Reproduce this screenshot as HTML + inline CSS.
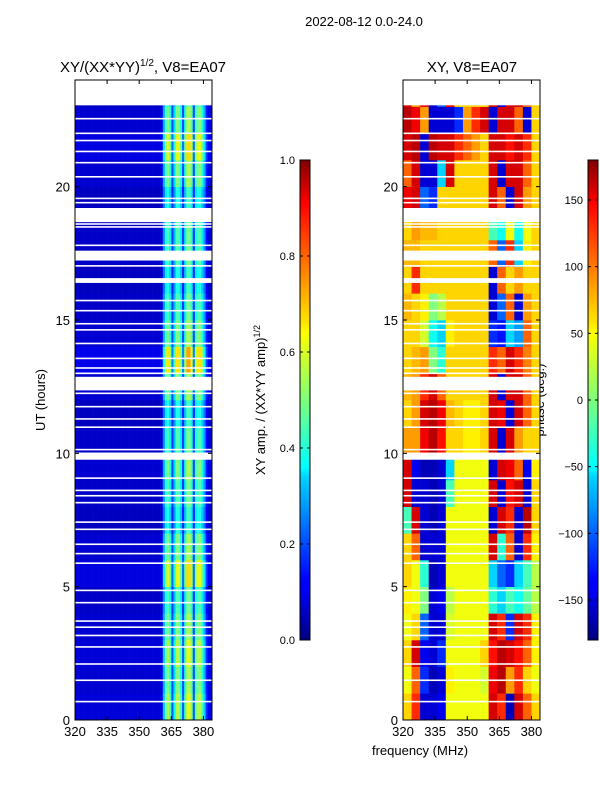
<!DOCTYPE html>
<html><head><meta charset="utf-8"><style>
body{margin:0;background:#fff;width:600px;height:800px;overflow:hidden;font-family:"Liberation Sans",sans-serif}
text{font-family:"Liberation Sans","DejaVu Sans",sans-serif}
</style></head><body>
<svg id="fig" width="600" height="800" xmlns="http://www.w3.org/2000/svg">
<defs>
<linearGradient id="jetV" x1="0" y1="1" x2="0" y2="0">
<stop offset="0" stop-color="#00007f"/><stop offset="0.11" stop-color="#0000ff"/><stop offset="0.125" stop-color="#0000ff"/>
<stop offset="0.34" stop-color="#00d4ff"/><stop offset="0.36" stop-color="#0ff"/><stop offset="0.5" stop-color="#7dff7a"/>
<stop offset="0.64" stop-color="#ff0"/><stop offset="0.66" stop-color="#ffe600"/><stop offset="0.89" stop-color="#ff1300"/>
<stop offset="0.91" stop-color="#f00"/><stop offset="1" stop-color="#7f0000"/>
</linearGradient>
</defs>
<text x="364" y="26" font-size="13" text-anchor="middle">2022-08-12 0.0-24.0</text>
<text x="143" y="72" font-size="15" text-anchor="middle">XY/(XX*YY)<tspan font-size="10" dy="-6">1/2</tspan><tspan dy="6">, V8=EA07</tspan></text>
<text x="472" y="72" font-size="15" text-anchor="middle">XY, V8=EA07</text>
<text transform="translate(45,400) rotate(-90)" font-size="13" text-anchor="middle">UT (hours)</text>
<text transform="translate(265,400) rotate(-90)" font-size="13" text-anchor="middle">XY amp. / (XX*YY amp)<tspan font-size="9" dy="-5">1/2</tspan></text>
<text transform="translate(544,400) rotate(-90)" font-size="13" text-anchor="middle">phase (deg.)</text>
<text x="420" y="755" font-size="13" text-anchor="middle">frequency (MHz)</text>
<g id="left"></g>
<g id="right"></g>
<g id="cbars"></g>
</svg>
<script>
const ampChan=[.08,.08,.08,.08,.08,.08,.08,.08,.08,.08,.08,.08,.08,.08,.08,.08,.08,.08,.08,.08,.08,.08,.08,.08,.08,.08,.08,.08,.08,.08,.08,.08,.08,.08,.08,.08,.08,.08,.08,.08,.1,.3,.45,.5,.4,.2,.35,.5,.5,.4,.2,.4,.55,.55,.45,.2,.45,.5,.5,.4,.3,.15,.1,.1];
const ampHour=[1.1,1.0,1.1,1.0,0.9,1.2,1.0,0.8,0.9,1.0,0.9,0.8,1.0,1.3,1.0,0.9,0.8,0.9,0.9,0.8,1.0,1.2,1.0,0.9];
const phase=[
[60,120,-150,-150,-140,40,40,40,40,40,150,120,-160,150,100,60],
[40,100,-120,-160,-150,50,40,40,40,30,140,160,80,120,60,40],
[60,150,-140,-150,-120,40,40,40,40,60,130,160,150,130,100,50],
[40,60,-100,-150,-150,30,40,40,40,40,150,120,-120,150,120,50],
[50,40,0,-150,-140,20,40,40,40,40,-30,-60,-20,-40,-10,20],
[60,40,-30,-160,-150,40,40,40,40,40,-60,-100,-120,-60,-20,20],
[60,100,-150,-150,-150,40,40,40,40,40,150,-30,100,-150,120,50],
[-20,150,-150,-160,-150,40,40,40,40,40,-150,150,120,-150,160,60],
[150,-150,-150,-160,-150,-20,40,40,40,40,150,-150,130,150,-150,60],
[150,-140,-160,-160,-150,-60,40,40,40,40,-150,150,140,100,-140,50],
[80,80,140,160,130,60,60,50,50,60,150,-150,150,80,60,60],
[60,80,150,160,140,70,60,50,50,60,150,140,-150,150,100,60],
[70,80,120,150,100,60,60,60,60,60,150,-150,150,150,100,60],
[60,70,80,0,-30,60,60,60,60,60,120,100,150,120,90,60],
[60,60,30,-40,-60,50,60,60,60,60,-120,-130,-60,-80,100,60],
[70,60,50,0,20,60,60,60,60,60,-150,-100,100,-150,80,60],
[60,120,60,60,60,60,60,60,60,60,-150,100,60,80,60,60],
[70,70,60,60,60,60,60,60,60,60,100,-100,120,-60,50,60],
[60,80,70,70,60,60,60,60,60,60,-20,-40,40,-40,40,60],
[140,150,-100,-120,60,60,60,60,60,60,150,100,-150,150,80,60],
[100,150,-150,-150,-60,150,60,60,60,60,150,-150,150,150,100,60],
[150,160,-150,160,150,150,120,100,80,60,150,150,130,150,120,60],
[160,140,80,-150,-150,-150,-120,80,120,150,-150,150,150,100,-150,60],
[150,80,140,-150,-100,140,60,60,60,60,150,-150,150,150,100,60]];
const gaps=[[23.05,24],[18.67,19.2],[17.23,17.6],[16.39,16.57],[12.36,12.87],[9.76,10.03]];
const thinLines=[22.55,22.0,21.73,21.32,20.9,20.37,19.56,19.4,18.6,18.49,17.8,17.03,15.73,15.35,14.86,14.63,14.12,13.56,13.2,13.0,12.25,11.75,11.29,10.98,10.14,9.07,8.61,8.41,8.15,7.42,7.15,6.59,6.24,5.88,4.86,4.4,3.71,3.48,3.17,2.74,2.1,1.49,0.69];
const xTicks=[320,335,350,365,380];
const yTicks=[0,5,10,15,20];
const ampTicks=[0.0,0.2,0.4,0.6,0.8,1.0];
const phTicks=[-150,-100,-50,0,50,100,150];

const NS="http://www.w3.org/2000/svg";
const T=0,B=720,TOP=80;
function yS(h){return B-(h/24)*(B-TOP);}
function xS(x0,f){return x0+(f-320)/64*137;}
function jet(v){v=Math.max(0,Math.min(1,v));
 const r=Math.min(4*v-1.5,-4*v+4.5),g=Math.min(4*v-0.5,-4*v+3.5),b=Math.min(4*v+0.5,-4*v+2.5);
 const c=x=>Math.round(255*Math.max(0,Math.min(1,x)));return `rgb(${c(r)},${c(g)},${c(b)})`;}
function mk(tag,attrs,parent){const e=document.createElementNS(NS,tag);for(const k in attrs)e.setAttribute(k,attrs[k]);parent.appendChild(e);return e;}

function panel(gId,x0,cellFn,nch){
 const g=document.getElementById(gId);
 const cw=137/nch;
 for(let h=0;h<24;h++)for(let c=0;c<nch;c++){
  const r=mk('rect',{x:(x0+c*cw).toFixed(2),y:yS(h+1).toFixed(2),width:(cw+0.3).toFixed(2),height:(yS(h)-yS(h+1)+0.3).toFixed(2),fill:cellFn(h,c)},g);
  
  
 }
 gaps.forEach(gp=>{const r=mk('rect',{x:x0,y:yS(gp[1]),width:137,height:yS(gp[0])-yS(gp[1]),fill:'#fff'},g);
  
  });
 thinLines.forEach(t=>{const r=mk('rect',{x:x0,y:yS(t)-0.8,width:137,height:1.6,fill:'#fff'},g);
  
  });
 const fr=mk('rect',{x:x0,y:TOP,width:137,height:B-TOP,fill:'none',stroke:'#000','stroke-width':1},g);
 
 
 xTicks.forEach(f=>{const x=xS(x0,f);
  mk('line',{x1:x,x2:x,y1:B,y2:B-4,stroke:'#000'},g);mk('line',{x1:x,x2:x,y1:TOP,y2:TOP+4,stroke:'#000'},g);
  const t=mk('text',{x:x,y:B+16,'font-size':13,'text-anchor':'middle'},g);t.textContent=f;
  
  });
 yTicks.forEach(h=>{const y=yS(h);
  mk('line',{x1:x0,x2:x0+4,y1:y,y2:y,stroke:'#000'},g);mk('line',{x1:x0+137,x2:x0+133,y1:y,y2:y,stroke:'#000'},g);
  const t=mk('text',{x:x0-5,y:y+5,'font-size':13,'text-anchor':'end'},g);t.textContent=h;
  
  });
}
panel('left',75,(h,c)=>jet(ampChan[c]*ampHour[h]),ampChan.length);
panel('right',403,(h,c)=>jet((phase[h][c]+180)/360),16);

function cbar(x,ticks,lo,hi,fmt){
 const g=document.getElementById('cbars');
 const r=mk('rect',{x:x,y:160,width:10,height:480,fill:'url(#jetV)',stroke:'#000','stroke-width':1},g);
 
 
 ticks.forEach(v=>{const y=640-(v-lo)/(hi-lo)*480;
  mk('line',{x1:x,x2:x+3,y1:y,y2:y,stroke:'#000'},g);mk('line',{x1:x+10,x2:x+7,y1:y,y2:y,stroke:'#000'},g);
  const t=mk('text',{x:x-5,y:y+4,'font-size':11,'text-anchor':'end'},g);t.textContent=fmt(v);
  
  });
}
cbar(300,ampTicks,0,1,v=>v.toFixed(1));
cbar(588,phTicks,-180,180,v=>v<0?'\u2212'+(-v):String(v));
</script>
</body></html>
